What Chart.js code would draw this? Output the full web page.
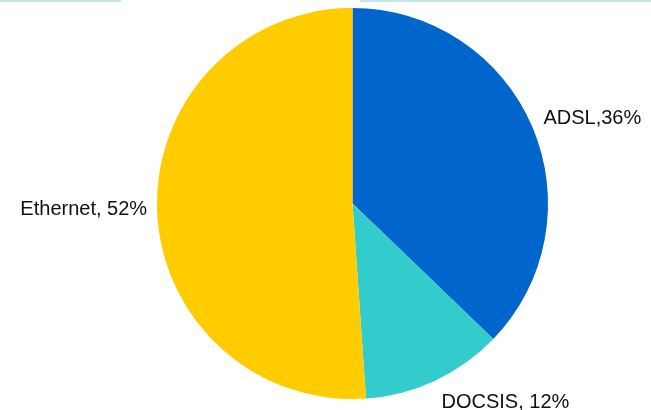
<!DOCTYPE html>
<html lang="en">
<head>
  <meta charset="UTF-8" />
  <title>Access Technology Share</title>
  <script src="https://cdn.jsdelivr.net/npm/chart.js"></script>
  <style>
    html, body { margin: 0; padding: 0; background: #fff; }
    .wrap { position: relative; width: 651px; height: 410px; }
    .edge { position: absolute; top: 0; height: 2px; background: #c4e4e8; }
  </style>
</head>
<body>
  <div class="wrap">
    <div class="edge" style="left:0;width:121px"></div>
    <div class="edge" style="left:360px;width:291px"></div>
    <canvas id="pieChart" width="651" height="410"></canvas>
  </div>

  <script>
    // slice data (clockwise from 12 o'clock)
    const categories = ["ADSL", "DOCSIS", "Ethernet"];
    const shares = [37.2, 11.7, 51.1];
    const labelTexts = ["ADSL,36%", "DOCSIS, 12%", "Ethernet, 52%"];
    const sliceColors = ["#0066CC", "#33CCCC", "#FFCC00"];

    // draws the "name, x%" text just outside each slice
    const outsideLabels = {
      id: "outsideLabels",
      afterDatasetsDraw(chart, args, opts) {
        const ctx = chart.ctx;
        const arcs = chart.getDatasetMeta(0).data;
        ctx.save();
        ctx.font = "20px 'Liberation Sans', Arial, sans-serif";
        ctx.fillStyle = "#111";
        ctx.textBaseline = "middle";
        arcs.forEach((arc, i) => {
          const p = arc.getProps(["x", "y", "startAngle", "endAngle", "outerRadius"], true);
          const mid = (p.startAngle + p.endAngle) / 2;
          const r = p.outerRadius + opts.offsets[i];
          const x = p.x + Math.cos(mid) * r + opts.nudge[i][0];
          const y = p.y + Math.sin(mid) * r + opts.nudge[i][1];
          ctx.textAlign = Math.cos(mid) >= 0 ? "left" : "right";
          ctx.fillText(labelTexts[i], x, y);
        });
        ctx.restore();
      }
    };

    new Chart(document.getElementById("pieChart"), {
      type: "pie",
      data: {
        labels: categories,
        datasets: [{
          data: shares,
          backgroundColor: sliceColors,
          borderWidth: 0
        }]
      },
      options: {
        responsive: false,
        animation: false,
        layout: { padding: { left: 54, right: 0, top: 8, bottom: 11 } },
        plugins: {
          legend: { display: false },
          tooltip: { enabled: false },
          outsideLabels: { offsets: [12, 22, 10], nudge: [[0, -4], [-3, 2], [0, -1]] }
        }
      },
      plugins: [outsideLabels]
    });
  </script>
</body>
</html>
